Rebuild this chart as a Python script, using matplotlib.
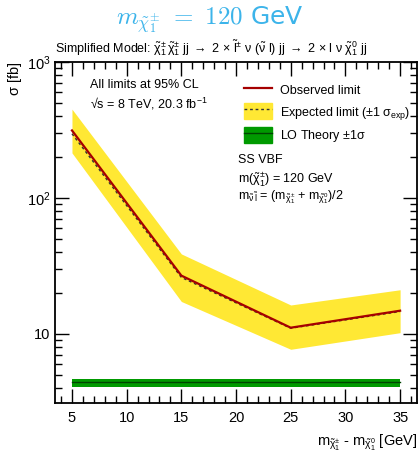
import matplotlib
matplotlib.use('Agg')
import matplotlib.pyplot as plt
from matplotlib.lines import Line2D
from matplotlib.patches import Patch
from matplotlib.ticker import MultipleLocator, LogLocator, NullFormatter, FixedLocator, FixedFormatter

plt.rcParams['font.family'] = ['Liberation Sans', 'DejaVu Sans']
plt.rcParams['mathtext.fontset'] = 'custom'
plt.rcParams['mathtext.rm'] = 'Liberation Sans'
plt.rcParams['mathtext.it'] = 'Liberation Sans'
plt.rcParams['mathtext.bf'] = 'Liberation Sans:bold'

# mass splitting points [GeV]
dm = [5, 15, 25, 35]
# limits on sigma [fb]
observed = [313, 26.8, 11.1, 14.8]
expected = [296, 26.0, 11.0, 14.6]
exp_up = [449, 38.7, 16.3, 21.1]
exp_down = [214, 17.3, 7.7, 10.2]
# LO theory cross section
theory = 4.42
theory_up = 4.64
theory_down = 4.10

fig = plt.figure(figsize=(4.2, 4.58), dpi=100)
ax = fig.add_axes([0.131, 0.120, 0.862, 0.745])

ax.fill_between(dm, exp_down, exp_up, color='#ffe834', lw=0, zorder=1)
ax.plot(dm, expected, color='#333333', ls=(0, (2, 2)), lw=1.0, zorder=3)
ax.plot(dm, observed, color='#a50000', lw=1.6, zorder=4)
ax.fill_between([dm[0], dm[-1]], theory_down, theory_up, color='#009a00', lw=0, zorder=2)
ax.plot([dm[0], dm[-1]], [theory, theory], color='#004400', lw=1.0, zorder=3)

ax.set_yscale('log')
ax.set_xlim(3.45, 36.55)
ax.set_ylim(3.1, 1000)

ax.xaxis.set_major_locator(MultipleLocator(5))
ax.xaxis.set_minor_locator(MultipleLocator(1))
ax.yaxis.set_major_locator(FixedLocator([10, 100, 1000]))
ax.yaxis.set_major_formatter(FixedFormatter(['10', r'$10^2$', r'$10^3$']))
ax.yaxis.set_minor_locator(LogLocator(base=10, subs=range(2, 10)))
ax.yaxis.set_minor_formatter(NullFormatter())

ax.tick_params(which='both', direction='in', top=True, right=True, width=1.0, labelsize=10.5)
ax.tick_params(which='major', length=10)
ax.tick_params(which='minor', length=5)
ax.tick_params(axis='x', pad=6)
for s in ax.spines.values():
    s.set_linewidth(1.3)

ax.set_ylabel(r'$\sigma$ [fb]', fontsize=10.5, loc='top', labelpad=2)
ax.set_xlabel(r'm$_{\tilde{\chi}_1^{\pm}}$ - m$_{\tilde{\chi}_1^{0}}$ [GeV]', fontsize=10.5,
              loc='right', labelpad=5)

fig.text(0.5, 0.957, r'$m_{\tilde{\chi}_1^{\pm}}\ =\ 120$ GeV', ha='center', va='center',
         fontsize=18, color='#3cb4ea', family='DejaVu Sans', math_fontfamily='cm')
fig.text(0.131, 0.874, r'Simplified Model: $\tilde{\chi}_1^{\pm}\,\tilde{\chi}_1^{\pm}$ jj $\rightarrow$ 2 $\times$ '
         r'$\tilde{l}^{\pm}$ $\nu$ ($\tilde{\nu}$ l) jj $\rightarrow$ 2 $\times$ l $\nu$ $\tilde{\chi}_1^0$ jj',
         ha='left', va='bottom', fontsize=9)

ax.text(0.098, 0.933, 'All limits at 95% CL', transform=ax.transAxes, fontsize=9, va='center')
ax.text(0.098, 0.877, '\u221as = 8 TeV, 20.3 fb$^{-1}$', transform=ax.transAxes, fontsize=9, va='center')

handles = [Line2D([], [], color='#a50000', lw=1.6),
           (Patch(color='#ffe834'), Line2D([], [], color='#333333', ls=(0, (2, 2)), lw=1.0)),
           (Patch(color='#009a00'), Line2D([], [], color='#004400', lw=1.0))]
labels = ['Observed limit', r'Expected limit ($\pm$1 $\sigma_{\rm exp}$)', r'LO Theory $\pm$1$\sigma$']
ax.legend(handles, labels, loc='upper left', bbox_to_anchor=(0.49, 0.975), frameon=False,
          fontsize=9, handlelength=2.3, handleheight=1.6, labelspacing=0.45, handletextpad=0.6)

ax.text(0.505, 0.712, 'SS VBF', transform=ax.transAxes, fontsize=9, va='center')
ax.text(0.505, 0.658, r'm($\tilde{\chi}_1^{\pm}$) = 120 GeV', transform=ax.transAxes, fontsize=9, va='center')
ax.text(0.505, 0.603, r'm$_{\tilde{\nu}\,\tilde{l}}$ = (m$_{\tilde{\chi}_1^{\pm}}$ + m$_{\tilde{\chi}_1^{0}}$)/2',
        transform=ax.transAxes, fontsize=9, va='center')

fig.savefig('out.png', dpi=100)
